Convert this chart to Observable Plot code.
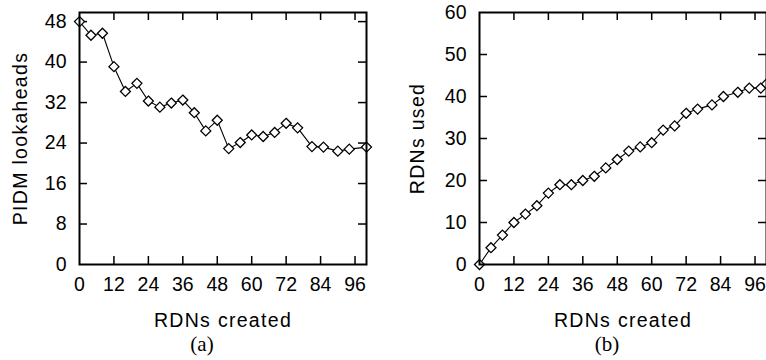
<!DOCTYPE html>
<html>
<head>
<meta charset="utf-8">
<script src="https://cdn.jsdelivr.net/npm/d3@7"></script>
<script src="https://cdn.jsdelivr.net/npm/@observablehq/plot@0.6"></script>
<style>
  html, body { margin: 0; padding: 0; background: #fff; }
  #wrap { position: relative; width: 766px; height: 360px; overflow: hidden; }
  .panel { position: absolute; top: 0; }
  .cap { position: absolute; font-family: "Liberation Serif", serif; font-size: 21px; color: #000; transform: translate(-50%, -50%); white-space: nowrap; }
  text.axlabel { letter-spacing: 1.3px; }
</style>
</head>
<body>
<div id="wrap">
  <div class="panel" id="pa" style="left:0"></div>
  <div class="panel" id="pb" style="left:383px"></div>
  <div class="cap" style="left:202px; top:344px">(a)</div>
  <div class="cap" style="left:607px; top:344px">(b)</div>
</div>
<script>
// ---- data ----
const createdA = [0,4,8,12,16,20,24,28,32,36,40,44,48,52,56,60,64,68,72,76,81,85,90,94,100];
const lookaheads = [48.0,45.3,45.7,39.1,34.2,35.8,32.3,31.1,31.9,32.5,30.0,26.4,28.5,22.9,24.1,25.6,25.3,26.1,27.9,27.0,23.3,23.2,22.4,22.8,23.2];
const createdB = [0,4,8,12,16,20,24,28,32,36,40,44,48,52,56,60,64,68,72,76,81,85,90,94,98,100];
const used = [0,4,7,10,12,14,17,19,19,20,21,23,25,27,28,29,32,33,36,37,38,40,41,42,42,43];
const xTicks = [0,12,24,36,48,60,72,84,96];
const yTicksA = [0,8,16,24,32,40,48];
const yTicksB = [0,10,20,30,40,50,60];
const xLabel = "RDNs created";
const yLabelA = "PIDM lookaheads";
const yLabelB = "RDNs used";

const W = 383, H = 330, MT = 12, MB = 66;
const innerH = H - MT - MB;
const innerW = 287;
const FONT = "Liberation Sans, Arial, Helvetica, sans-serif";
const FS = 19.5;

function panel(xs, ys, yDomain, yTicks, yLabel, ml, mr, ydx) {
  const data = xs.map((x, i) => ({x, y: ys[i]}));
  const xt = xTicks.filter(d => d > 0);
  const yt = yTicks.filter(d => d > yDomain[0] && d < yDomain[1]);
  const svg = Plot.plot({
    width: W, height: H,
    marginTop: MT, marginBottom: MB, marginLeft: ml, marginRight: mr,
    style: {fontFamily: FONT, fontSize: FS + "px", background: "white", overflow: "visible"},
    x: {domain: [0, 100]},
    y: {domain: yDomain},
    marks: [
      Plot.axisX(xTicks, {tickSize: 0, tickPadding: 13, fontSize: FS, fill: "black", label: null}),
      Plot.axisY(yTicks, {tickSize: 0, tickPadding: 13, fontSize: FS, fill: "black", label: null}),
      Plot.tickX(xt, {x: d => d, insetTop: innerH - 8, stroke: "black", strokeWidth: 1.5}),
      Plot.tickX(xt, {x: d => d, insetBottom: innerH - 8, stroke: "black", strokeWidth: 1.5}),
      Plot.tickY(yt, {y: d => d, insetRight: innerW - 8, stroke: "black", strokeWidth: 1.5}),
      Plot.tickY(yt, {y: d => d, insetLeft: innerW - 8, stroke: "black", strokeWidth: 1.5}),
      Plot.line(data, {x: "x", y: "y", stroke: "black", strokeWidth: 1.1}),
      Plot.dot(data, {x: "x", y: "y", symbol: "diamond2", r: 4.5, fill: "white", stroke: "black", strokeWidth: 1.3}),
      Plot.frame({stroke: "black", strokeWidth: 2}),
      Plot.text([xLabel], {frameAnchor: "bottom", textAnchor: "middle", lineAnchor: "bottom", dy: 62, fontSize: FS, fill: "black"}),
      Plot.text([yLabel], {frameAnchor: "left", textAnchor: "middle", lineAnchor: "bottom", rotate: -90, dx: ydx, fontSize: FS, fill: "black"})
    ]
  });
  svg.querySelectorAll("text").forEach(t => {
    if (t.textContent === xLabel || t.textContent === yLabel) t.classList.add("axlabel");
  });
  return svg;
}

document.getElementById("pa").append(panel(createdA, lookaheads, [0, 49.8], yTicksA, yLabelA, 79, W - 79 - innerW, -53));
document.getElementById("pb").append(panel(createdB, used, [0, 60], yTicksB, yLabelB, 96, W - 96 - innerW, -56));
</script>
</body>
</html>
